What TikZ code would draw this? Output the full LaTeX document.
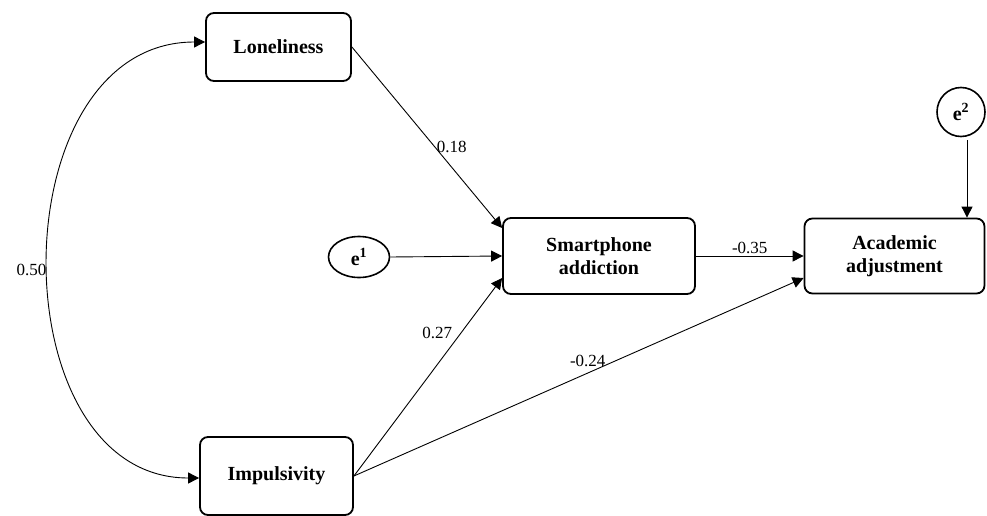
\documentclass[tikz,border=0pt]{standalone}
\usepackage{fontspec}
\setmainfont{Liberation Serif}
\usetikzlibrary{arrows.meta,shapes.geometric}

\begin{document}
\begin{tikzpicture}[x=1pt,y=-1pt,
    var/.style={draw,line width=1.8pt,rounded corners=8pt,align=center,
      font=\fontsize{20}{23}\selectfont\bfseries,inner sep=0pt},
    err/.style={draw,ellipse,line width=1.6pt,inner sep=0pt,
      font=\fontsize{20}{23}\selectfont\bfseries},
    coef/.style={font=\fontsize{17}{20}\selectfont,inner sep=2pt}
  ]
  \useasboundingbox (0,0) rectangle (987,516);
  % observed variables
  \node[var,minimum width=145pt,minimum height=68pt] (lone) at (278.5,47) {Loneliness};
  \node[var,minimum width=153pt,minimum height=78pt] (impu) at (276.5,476) {Impulsivity};
  \node[var,minimum width=192pt,minimum height=76pt] (smart) at (599,256) {Smartphone\\addiction};
  \node[var,minimum width=180pt,minimum height=75pt] (acad) at (894.5,256) {Academic\\adjustment};
  % error terms
  \node[err,minimum width=61pt,minimum height=41pt] (eone) at (359,257) {e$^{\mathbf{1}}$};
  \node[err,minimum width=48pt,minimum height=49pt] (etwo) at (961,112) {e$^{\mathbf{2}}$};
  \coordinate (etwoout) at ([xshift=6pt,yshift=-3pt]etwo.south);
  %TODO: paths
  \path[->,line width=0.9pt,>={Triangle[length=11pt,width=11pt]}]
  (lone.east) edge node[coef,pos=0.55,right]{0.18} ([yshift=28pt]smart.west)
  (eone.east) edge (smart.west)
  (impu.east) edge node[coef,pos=0.72,left=6pt]{0.27} ([yshift=-22pt]smart.west)
  (impu.east) edge node[coef,pos=0.52,above=4pt]{-0.24} ([yshift=-22pt]acad.west)
  (smart.east) edge node[coef,midway,above=0pt]{-0.35} (acad.west)
  (etwoout) edge (etwoout |- acad.north)
  ;
  % covariance
  \draw[<->,line width=0.9pt,>={Triangle[length=11pt,width=11pt]}]
  ([yshift=5pt]lone.west) .. controls +(-207,0) and +(-202,0) .. ([yshift=-2pt]impu.west)
    node[coef,midway,left,yshift=-10pt]{0.50};
\end{tikzpicture}
\end{document}
